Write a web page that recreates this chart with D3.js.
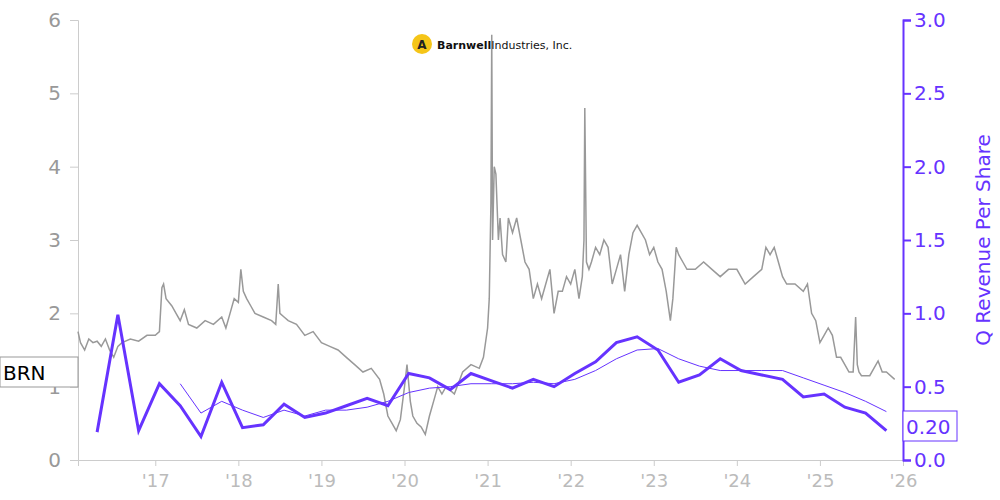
<!DOCTYPE html><html><head><meta charset="utf-8">
<script src="https://cdn.jsdelivr.net/npm/d3@7"></script>
<style>body{margin:0;background:#fff}text{font-family:"DejaVu Sans",sans-serif}</style></head><body>
<svg id="c" width="1000" height="500"></svg>
<script>
const priceDates=[2016.07,2016.1,2016.15,2016.2,2016.25,2016.3,2016.35,2016.4,2016.45,2016.5,2016.55,2016.6,2016.7,2016.8,2016.9,2017.0,2017.05,2017.08,2017.1,2017.13,2017.2,2017.25,2017.3,2017.35,2017.4,2017.5,2017.6,2017.7,2017.8,2017.85,2017.9,2017.95,2018.0,2018.03,2018.06,2018.1,2018.15,2018.2,2018.3,2018.4,2018.45,2018.48,2018.5,2018.55,2018.6,2018.7,2018.8,2018.9,2019.0,2019.1,2019.2,2019.3,2019.4,2019.5,2019.6,2019.7,2019.75,2019.8,2019.85,2019.9,2019.95,2020.0,2020.03,2020.07,2020.1,2020.15,2020.2,2020.25,2020.3,2020.35,2020.4,2020.45,2020.5,2020.6,2020.7,2020.8,2020.9,2020.95,2021.0,2021.02,2021.04,2021.05,2021.06,2021.08,2021.1,2021.13,2021.15,2021.18,2021.22,2021.25,2021.3,2021.35,2021.4,2021.45,2021.5,2021.55,2021.6,2021.65,2021.7,2021.75,2021.8,2021.85,2021.9,2021.95,2022.0,2022.05,2022.1,2022.14,2022.16,2022.17,2022.19,2022.22,2022.25,2022.3,2022.35,2022.4,2022.45,2022.5,2022.55,2022.6,2022.65,2022.7,2022.75,2022.8,2022.85,2022.9,2022.95,2023.0,2023.05,2023.1,2023.15,2023.2,2023.23,2023.27,2023.3,2023.35,2023.4,2023.5,2023.6,2023.7,2023.8,2023.9,2024.0,2024.1,2024.2,2024.3,2024.35,2024.4,2024.45,2024.5,2024.55,2024.6,2024.7,2024.8,2024.85,2024.9,2024.95,2025.0,2025.05,2025.1,2025.15,2025.2,2025.25,2025.3,2025.35,2025.4,2025.43,2025.45,2025.47,2025.5,2025.6,2025.7,2025.75,2025.8,2025.9,2025.97];
const priceValues=[1.75,1.6,1.5,1.65,1.6,1.62,1.55,1.65,1.5,1.4,1.55,1.6,1.65,1.62,1.7,1.7,1.75,2.35,2.4,2.2,2.1,2.0,1.9,2.05,1.85,1.8,1.9,1.85,1.95,1.8,2.0,2.2,2.15,2.6,2.3,2.2,2.1,2.0,1.95,1.9,1.85,2.4,2.0,1.95,1.9,1.85,1.7,1.75,1.6,1.55,1.5,1.4,1.3,1.2,1.25,1.1,0.9,0.6,0.5,0.4,0.55,1.0,1.3,0.8,0.6,0.5,0.45,0.35,0.6,0.8,1.0,0.9,1.0,0.9,1.2,1.3,1.25,1.4,1.8,2.2,3.5,5.8,3.0,4.0,3.9,3.0,3.3,2.8,2.7,3.3,3.1,3.3,3.0,2.7,2.6,2.2,2.4,2.2,2.4,2.6,2.0,2.3,2.3,2.5,2.4,2.6,2.2,2.5,3.0,4.8,2.7,2.6,2.7,2.9,2.8,3.0,2.9,2.4,2.6,2.8,2.3,2.8,3.1,3.2,3.1,3.0,2.8,2.9,2.7,2.6,2.3,1.9,2.2,2.9,2.8,2.7,2.6,2.6,2.7,2.6,2.5,2.6,2.6,2.4,2.5,2.6,2.9,2.8,2.9,2.7,2.5,2.4,2.4,2.3,2.4,2.0,1.9,1.6,1.7,1.8,1.7,1.4,1.4,1.3,1.2,1.2,1.95,1.3,1.2,1.15,1.15,1.35,1.2,1.2,1.1];
const revDates=[2016.3,2016.55,2016.8,2017.05,2017.3,2017.55,2017.8,2018.05,2018.3,2018.55,2018.8,2019.05,2019.3,2019.55,2019.8,2020.05,2020.3,2020.55,2020.8,2021.05,2021.3,2021.55,2021.8,2022.05,2022.3,2022.55,2022.8,2023.05,2023.3,2023.55,2023.8,2024.05,2024.3,2024.55,2024.8,2025.05,2025.3,2025.55,2025.8];
const revValues=[0.19,0.99,0.2,0.52,0.37,0.16,0.53,0.22,0.24,0.38,0.29,0.32,0.37,0.42,0.37,0.59,0.56,0.48,0.59,0.54,0.49,0.55,0.50,0.59,0.67,0.80,0.84,0.75,0.53,0.58,0.69,0.61,0.58,0.55,0.43,0.45,0.36,0.32,0.20];
const avgDates=revDates.slice(4);
const avgValues=[0.52,0.32,0.40,0.34,0.29,0.34,0.30,0.34,0.34,0.36,0.40,0.46,0.49,0.50,0.52,0.52,0.52,0.53,0.52,0.55,0.61,0.69,0.75,0.76,0.69,0.64,0.61,0.61,0.61,0.61,0.56,0.51,0.46,0.40,0.33];
const yearTicks=[2017,2018,2019,2020,2021,2022,2023,2024,2025,2026];
const leftTicks=[0,1,2,3,4,5,6];
const rightTicks=[0,0.5,1,1.5,2,2.5,3];

const svg=d3.select("#c");
const x=d3.scaleLinear().domain([2016.07,2026]).range([78,903]);
const yL=d3.scaleLinear().domain([0,6]).range([460,20]);
const yR=d3.scaleLinear().domain([0,3]).range([460,20]);
const grey="#999",purple="#6633ff";

const ax=svg.append("g").attr("transform","translate(0,460)").call(d3.axisBottom(x).tickValues(yearTicks).tickFormat(d=>"'"+String(d).slice(2)).tickSize(6));
ax.selectAll("text").attr("fill","#bbb").attr("font-size",18).attr("dy","1em");
ax.selectAll("line,path").attr("stroke","#ccc");
const al=svg.append("g").attr("transform","translate(78,0)").call(d3.axisLeft(yL).tickValues(leftTicks).tickFormat(d3.format("d")).tickSize(8));
al.selectAll("text").attr("fill",grey).attr("font-size",20).attr("dx","-6");
al.selectAll("line,path").attr("stroke","#ccc");
const ar=svg.append("g").attr("transform","translate(903,0)").call(d3.axisRight(yR).tickValues(rightTicks).tickFormat(d3.format(".1f")).tickSize(8));
ar.selectAll("text").attr("fill",purple).attr("font-size",20);
ar.selectAll("line,path").attr("stroke",purple).attr("stroke-width",2);
svg.append("text").attr("transform","translate(990,240) rotate(-90)").attr("text-anchor","middle").attr("fill",purple).attr("font-size",20).text("Q Revenue Per Share");

svg.append("path").datum(priceDates.map((d,i)=>[d,priceValues[i]])).attr("fill","none").attr("stroke",grey).attr("stroke-width",1.5)
 .attr("d",d3.line().x(d=>x(d[0])).y(d=>yL(d[1])));
svg.append("path").datum(avgDates.map((d,i)=>[d,avgValues[i]])).attr("fill","none").attr("stroke",purple).attr("stroke-width",1)
 .attr("d",d3.line().x(d=>x(d[0])).y(d=>yR(d[1])));
svg.append("path").datum(revDates.map((d,i)=>[d,revValues[i]])).attr("fill","none").attr("stroke",purple).attr("stroke-width",3)
 .attr("d",d3.line().x(d=>x(d[0])).y(d=>yR(d[1])));

svg.append("rect").attr("x",0).attr("y",357).attr("width",78).attr("height",30).attr("fill","#fff").attr("stroke","#999");
svg.append("text").attr("x",3).attr("y",380).attr("font-size",20).attr("fill","#000").text("BRN");
svg.append("rect").attr("x",903).attr("y",411).attr("width",54).attr("height",30).attr("fill","#fff").attr("stroke",purple);
svg.append("text").attr("x",906).attr("y",434).attr("font-size",20).attr("fill",purple).text(d3.format(".2f")(revValues[revValues.length-1]));

svg.append("circle").attr("cx",422).attr("cy",44).attr("r",10).attr("fill","#f5c518");
svg.append("text").attr("x",422).attr("y",49).attr("text-anchor","middle").attr("font-size",12).attr("font-weight","bold").attr("fill","#222").text("A");
svg.append("text").attr("x",437).attr("y",49).attr("font-size",11).attr("fill","#111").html('<tspan font-weight="bold">Barnwell</tspan>Industries, Inc.');
</script></body></html>
